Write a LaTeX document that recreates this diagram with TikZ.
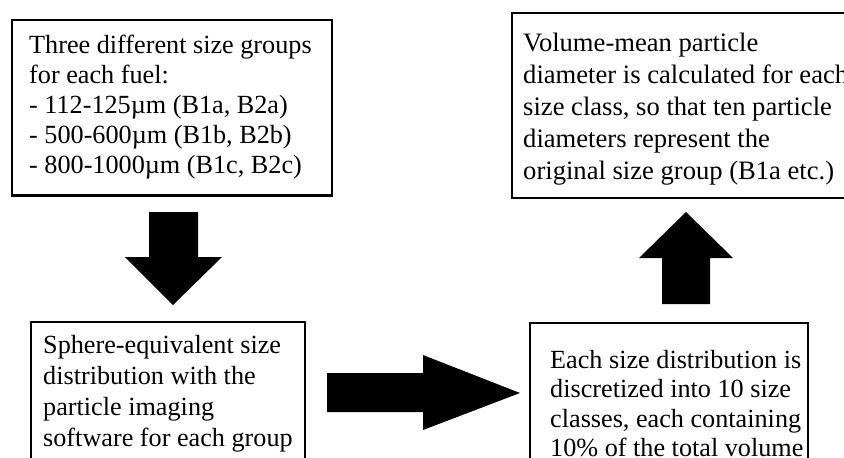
\documentclass[tikz,border=0pt]{standalone}
\usepackage{fontspec}
\setmainfont{Liberation Serif}
\begin{document}
\begin{tikzpicture}[x=1pt,y=-1pt,
  box/.style={draw, line width=2.6pt, outer sep=0pt, inner sep=0pt, anchor=north west},
  txt/.style={inner sep=0pt, anchor=base west, font=\fontsize{26.2}{30}\selectfont},
  blockarrow/.style={fill=black}]
\useasboundingbox (0,0) rectangle (844,458);
\clip (0,0) rectangle (844,458);
% boxes
\node[box, minimum width=320pt, minimum height=175.5pt] (b1) at (12,20) {};
\node[box, minimum width=360pt, minimum height=185pt] (b2) at (512,13) {};
\node[box, minimum width=274pt, minimum height=160pt] (b3) at (31,322) {};
\node[box, minimum width=278pt, minimum height=160pt] (b4) at (530,323) {};
% texts
\node[txt] (t1) at (29,53) {\vtop{\baselineskip=30pt
  \hbox{Three different size groups}
  \hbox{for each fuel:}
  \hbox{- 112-125µm (B1a, B2a)}
  \hbox{- 500-600µm (B1b, B2b)}
  \hbox{- 800-1000µm (B1c, B2c)}}};
\node[txt, font=\fontsize{26.6}{32}\selectfont] (t2) at (523,51.7) {\vtop{\baselineskip=32pt
  \hbox{Volume-mean particle}
  \hbox{diameter is calculated for each}
  \hbox{size class, so that ten particle}
  \hbox{diameters represent the}
  \hbox{original size group (B1a etc.)}}};
\node[txt] (t3) at (43,353) {\vtop{\baselineskip=31pt
  \hbox{Sphere-equivalent size}
  \hbox{distribution with the}
  \hbox{particle imaging}
  \hbox{software for each group}}};
\node[txt] (t4) at (550,368) {\vtop{\baselineskip=29.5pt
  \hbox{Each size distribution is}
  \hbox{discretized into 10 size}
  \hbox{classes, each containing}
  \hbox{10\% of the total volume}}};
% block arrows
\fill[blockarrow] (149,212) -- (198,212) -- (198,257) -- (222,257) -- (173,305) -- (125,257) -- (149,257) -- cycle;
\fill[blockarrow] (327,373) -- (423,373) -- (423,355) -- (520,393) -- (423,430) -- (423,412) -- (327,412) -- cycle;
\fill[blockarrow] (686,212) -- (733,258) -- (710,258) -- (710,304) -- (662,304) -- (662,258) -- (639,258) -- cycle;
\end{tikzpicture}
\end{document}
